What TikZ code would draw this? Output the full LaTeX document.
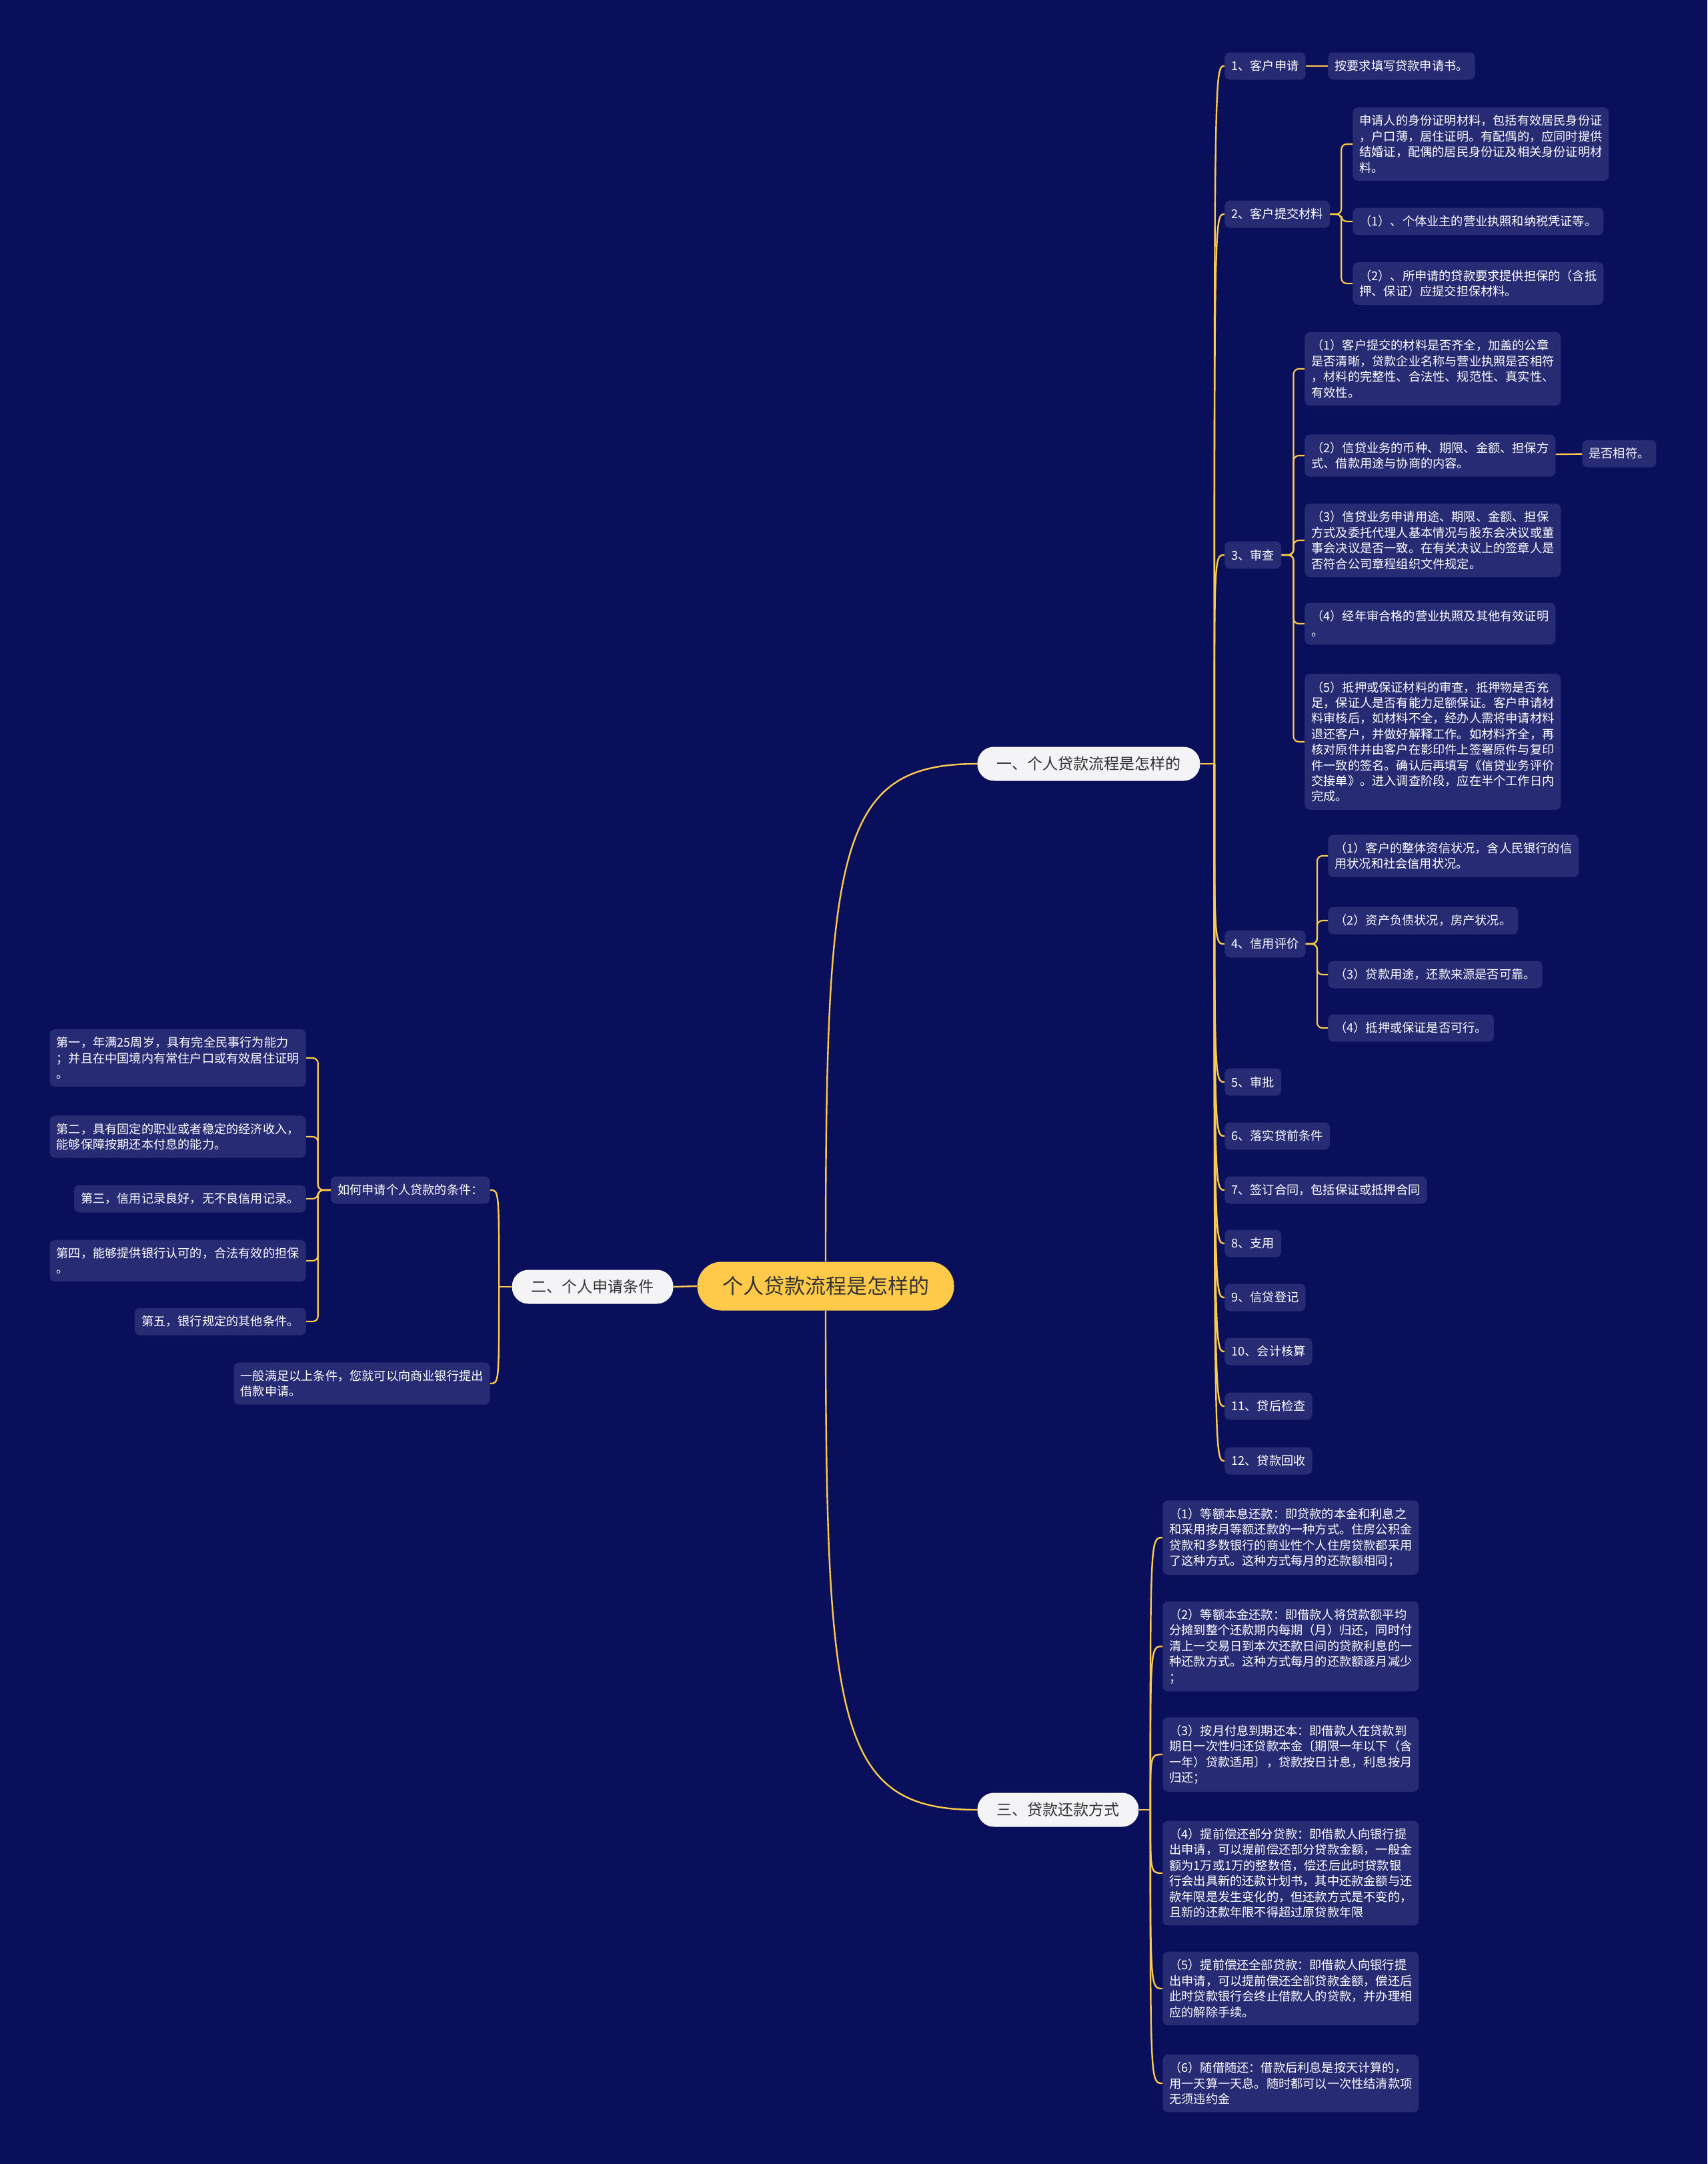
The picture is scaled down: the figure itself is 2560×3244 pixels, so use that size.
\documentclass[tikz,border=0pt]{standalone}
\usepackage{fontspec}
\setmainfont{Noto Sans CJK SC}
\usepackage{xcolor}
\usetikzlibrary{positioning,calc}
\definecolor{bgnavy}{HTML}{0A0F5C}
\definecolor{boxnavy}{HTML}{262B74}
\definecolor{gold}{HTML}{FFC94A}
\definecolor{pill}{HTML}{F4F4F6}
\definecolor{ink}{HTML}{333333}

\begin{document}
\begin{tikzpicture}[x=0.5pt,y=-0.5pt,
  root/.style={fill=gold,text=ink,rounded corners=18pt,minimum width=192.5pt,minimum height=36.5pt,font=\fontsize{15.5pt}{18pt}\selectfont},
  topic/.style={fill=pill,text=ink,rounded corners=12.5pt,minimum height=25.5pt,inner xsep=14.5pt,font=\fontsize{11.5pt}{14pt}\selectfont},
  item/.style={fill=boxnavy,text=white,rounded corners=4pt,align=left,inner xsep=5pt,inner ysep=5.7pt,minimum height=20.5pt,font=\fontsize{9.1pt}{11.7pt}\selectfont},
  link/.style={draw=gold,line width=1.2pt},
  elbow/.style={draw=gold,line width=1.1pt,rounded corners=4pt}]
\useasboundingbox (0,0) rectangle (2560,3244);
\fill[bgnavy] (0,0) rectangle (2560,3244);

\node[root] (root) at (1238,1928) {个人贷款流程是怎样的};
\node[topic,anchor=west] (a) at (1465,1145) {一、个人贷款流程是怎样的};
\node[topic,anchor=east] (b) at (1010,1929) {二、个人申请条件};
\node[topic,anchor=west] (c) at (1465,2713) {三、贷款还款方式};

% 一
\node[item,anchor=west] (s1) at (1836,99) {1、客户申请};
\node[item,anchor=west] (s1a) at (1991,99) {按要求填写贷款申请书。};
\node[item,anchor=west] (s2) at (1836,321) {2、客户提交材料};
\node[item,anchor=west] (s2a) at (2028,216) {申请人的身份证明材料，包括有效居民身份证\\，户口薄，居住证明。有配偶的，应同时提供\\结婚证，配偶的居民身份证及相关身份证明材\\料。};
\node[item,anchor=west] (s2b) at (2028,332) {（1）、个体业主的营业执照和纳税凭证等。};
\node[item,anchor=west] (s2c) at (2028,425) {（2）、所申请的贷款要求提供担保的（含抵\\押、保证）应提交担保材料。};
\node[item,anchor=west] (s3) at (1836,832) {3、审查};
\node[item,anchor=west] (s3a) at (1956,553) {（1）客户提交的材料是否齐全，加盖的公章\\是否清晰，贷款企业名称与营业执照是否相符\\，材料的完整性、合法性、规范性、真实性、\\有效性。};
\node[item,anchor=west] (s3b) at (1956,683) {（2）信贷业务的币种、期限、金额、担保方\\式、借款用途与协商的内容。};
\node[item,anchor=west] (s3b1) at (2372,680) {是否相符。};
\node[item,anchor=west] (s3c) at (1956,810) {（3）信贷业务申请用途、期限、金额、担保\\方式及委托代理人基本情况与股东会决议或董\\事会决议是否一致。在有关决议上的签章人是\\否符合公司章程组织文件规定。};
\node[item,anchor=west] (s3d) at (1956,935) {（4）经年审合格的营业执照及其他有效证明\\。};
\node[item,anchor=west] (s3e) at (1956,1112) {（5）抵押或保证材料的审查，抵押物是否充\\足，保证人是否有能力足额保证。客户申请材\\料审核后，如材料不全，经办人需将申请材料\\退还客户，并做好解释工作。如材料齐全，再\\核对原件并由客户在影印件上签署原件与复印\\件一致的签名。确认后再填写《信贷业务评价\\交接单》。进入调查阶段，应在半个工作日内\\完成。};
\node[item,anchor=west] (s4) at (1836,1415) {4、信用评价};
\node[item,anchor=west] (s4a) at (1991,1283) {（1）客户的整体资信状况，含人民银行的信\\用状况和社会信用状况。};
\node[item,anchor=west] (s4b) at (1991,1380) {（2）资产负债状况，房产状况。};
\node[item,anchor=west] (s4c) at (1991,1461) {（3）贷款用途，还款来源是否可靠。};
\node[item,anchor=west] (s4d) at (1991,1541) {（4）抵押或保证是否可行。};
\node[item,anchor=west] (s5) at (1836,1622) {5、审批};
\node[item,anchor=west] (s6) at (1836,1703) {6、落实贷前条件};
\node[item,anchor=west] (s7) at (1836,1784) {7、签订合同，包括保证或抵押合同};
\node[item,anchor=west] (s8) at (1836,1864) {8、支用};
\node[item,anchor=west] (s9) at (1836,1945) {9、信贷登记};
\node[item,anchor=west] (s10) at (1836,2026) {10、会计核算};
\node[item,anchor=west] (s11) at (1836,2108) {11、贷后检查};
\node[item,anchor=west] (s12) at (1836,2190) {12、贷款回收};

% 二
\node[item,anchor=east] (l1) at (735,1784) {如何申请个人贷款的条件：};
\node[item,anchor=east] (l1a) at (459,1586) {第一，年满25周岁，具有完全民事行为能力\\；并且在中国境内有常住户口或有效居住证明\\。};
\node[item,anchor=east] (l1b) at (459,1704) {第二，具有固定的职业或者稳定的经济收入，\\能够保障按期还本付息的能力。};
\node[item,anchor=east] (l1c) at (459,1797) {第三，信用记录良好，无不良信用记录。};
\node[item,anchor=east] (l1d) at (459,1890) {第四，能够提供银行认可的，合法有效的担保\\。};
\node[item,anchor=east] (l1e) at (459,1981) {第五，银行规定的其他条件。};
\node[item,anchor=east] (l2) at (735,2074) {一般满足以上条件，您就可以向商业银行提出\\借款申请。};

% 三
\node[item,anchor=west] (r1) at (1743,2305) {（1）等额本息还款：即贷款的本金和利息之\\和采用按月等额还款的一种方式。住房公积金\\贷款和多数银行的商业性个人住房贷款都采用\\了这种方式。这种方式每月的还款额相同；};
\node[item,anchor=west] (r2) at (1743,2468) {（2）等额本金还款：即借款人将贷款额平均\\分摊到整个还款期内每期（月）归还，同时付\\清上一交易日到本次还款日间的贷款利息的一\\种还款方式。这种方式每月的还款额逐月减少\\；};
\node[item,anchor=west] (r3) at (1743,2630) {（3）按月付息到期还本：即借款人在贷款到\\期日一次性归还贷款本金〔期限一年以下（含\\一年）贷款适用〕，贷款按日计息，利息按月\\归还；};
\node[item,anchor=west] (r4) at (1743,2808) {（4）提前偿还部分贷款：即借款人向银行提\\出申请，可以提前偿还部分贷款金额，一般金\\额为1万或1万的整数倍，偿还后此时贷款银\\行会出具新的还款计划书，其中还款金额与还\\款年限是发生变化的，但还款方式是不变的，\\且新的还款年限不得超过原贷款年限};
\node[item,anchor=west] (r5) at (1743,2981) {（5）提前偿还全部贷款：即借款人向银行提\\出申请，可以提前偿还全部贷款金额，偿还后\\此时贷款银行会终止借款人的贷款，并办理相\\应的解除手续。};
\node[item,anchor=west] (r6) at (1743,3123) {（6）随借随还：借款后利息是按天计算的，\\用一天算一天息。随时都可以一次性结清款项\\无须违约金};

\draw[link] (root.north) .. controls +(0,-620) and +(-210,0) .. (a.west);
\draw[link] (root.south) .. controls +(0,620) and +(-210,0) .. (c.west);
\draw[link] (root.west) -- (b.east);

\draw[link] (a.east) -- ++(21,0) coordinate (ta);
\foreach \i in {1,...,12} \draw[link] (ta) .. controls (ta |- s\i.west) .. (s\i.west);
\draw[link] (b.west) -- ++(-19,0) coordinate (tb);
\foreach \n in {l1,l2} \draw[link] (tb) .. controls (tb |- \n.east) .. (\n.east);
\draw[link] (c.east) -- ++(17,0) coordinate (tc);
\foreach \i in {1,...,6} \draw[link] (tc) .. controls (tc |- r\i.west) .. (r\i.west);

\draw[link] (s1) -- (s1a);
\draw[link] (s3b) -- (s3b1);
\foreach \n in {a,b,c} \draw[elbow] (s2.east) -- ++(17,0) |- (s2\n.west);
\foreach \n in {a,b,c,d,e} \draw[elbow] (s3.east) -- ++(18,0) |- (s3\n.west);
\foreach \n in {a,b,c,d} \draw[elbow] (s4.east) -- ++(17,0) |- (s4\n.west);
\foreach \n in {a,b,c,d,e} \draw[elbow] (l1.west) -- ++(-19,0) |- (l1\n.east);
\end{tikzpicture}
\end{document}
